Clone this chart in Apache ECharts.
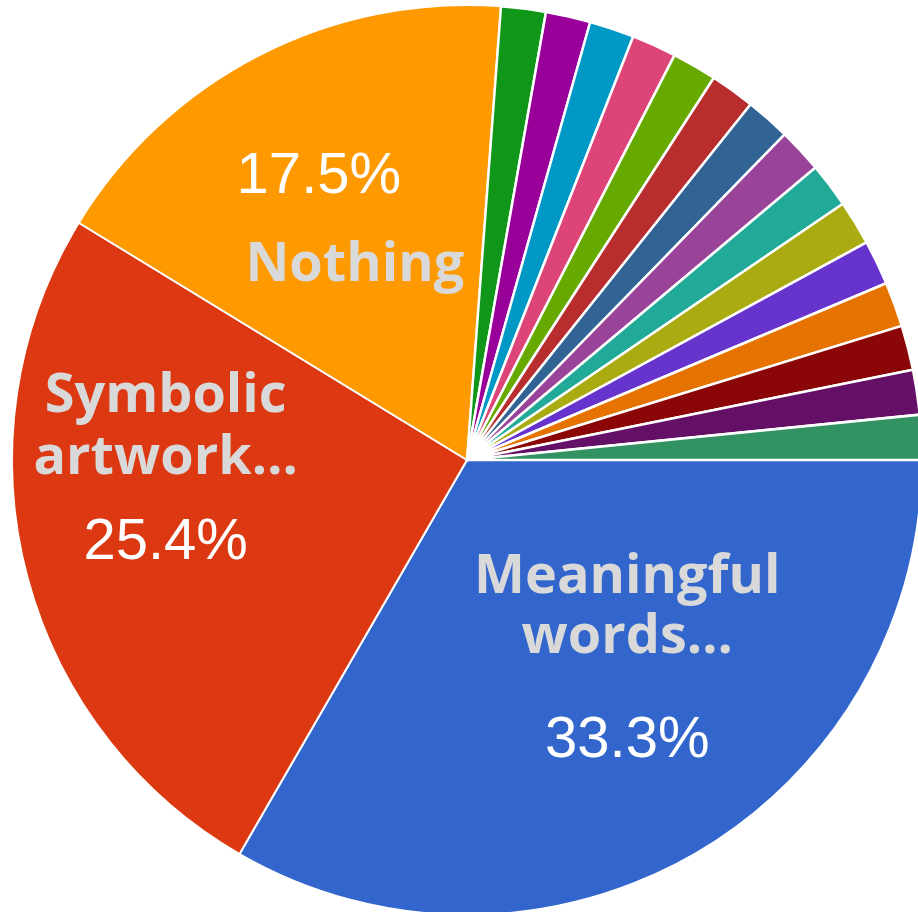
<!DOCTYPE html>
<html>
<head>
<meta charset="utf-8">
<style>
  html, body { margin: 0; padding: 0; background: #fff; }
  #chart { width: 918px; height: 912px; }
</style>
<script src="https://cdn.jsdelivr.net/npm/echarts@6/dist/echarts.min.js"></script>
</head>
<body>
<div id="chart"></div>
<script>
// answers, clockwise from 3 o'clock
const categories = [
  "Meaningful words…", "Symbolic artwork…", "Nothing",
  "Other 1", "Other 2", "Other 3", "Other 4", "Other 5",
  "Other 6", "Other 7", "Other 8", "Other 9", "Other 10",
  "Other 11", "Other 12", "Other 13", "Other 14", "Other 15"
];
const counts = [21, 16, 11, 1, 1, 1, 1, 1, 1, 1, 1, 1, 1, 1, 1, 1, 1, 1];
const colors = [
  "#3366cc", "#dc3912", "#ff9900", "#109618", "#990099", "#0099c6",
  "#dd4477", "#66aa00", "#b82e2e", "#316395", "#994499", "#22aa99",
  "#aaaa11", "#6633cc", "#e67300", "#8b0707", "#651067", "#329262"
];

// label tweaks for the three big slices only
const labelOffsets = [[45, 21], [-78, -36], [-25, -19]];

const chart = echarts.init(document.getElementById("chart"));

const nameStyle = {
  fontFamily: "Open Sans",
  fontWeight: "bold",
  fontSize: 54,
  color: "#d9d9d9",
  lineHeight: 60
};
const pctStyle = {
  fontFamily: "Liberation Sans",
  fontSize: 58,
  color: "#ffffff"
};

const fmt = (p) => {
  const pct = p.percent.toFixed(1) + "%";
  const parts = p.name.split(" ");
  if (p.dataIndex === 0) {
    return "{name|" + parts[0] + "}\n{name|" + parts[1] + "}\n{pctA|" + pct + "}";
  }
  if (p.dataIndex === 1) {
    return "{name2|" + parts[0] + "}\n{name2|" + parts[1] + "}\n{pctB|" + pct + "}";
  }
  return "{pctC|" + pct + "}\n{nameC|" + p.name + "}";
};

const data = categories.map((name, i) => {
  const item = { name: name, value: counts[i], itemStyle: { color: colors[i] } };
  if (i < 3) {
    item.label = { show: true, offset: labelOffsets[i] };
  } else {
    item.label = { show: false };
    item.itemStyle.borderWidth = 2.5;
  }
  return item;
});

chart.setOption({
  animation: false,
  series: [
    {
      type: "pie",
      center: [467, 460],
      radius: 455,
      startAngle: 0,
      clockwise: true,
      avoidLabelOverlap: false,
      itemStyle: { borderColor: "#ffffff", borderWidth: 2 },
      emphasis: { disabled: true },
      labelLine: { show: false },
      label: {
        position: "inside",
        formatter: fmt,
        rich: {
          name: nameStyle,
          name2: Object.assign({}, nameStyle, { lineHeight: 62 }),
          nameC: Object.assign({}, nameStyle, { lineHeight: 118, padding: [0, 0, 0, 36] }),
          pctA: Object.assign({}, pctStyle, { lineHeight: 146 }),
          pctB: Object.assign({}, pctStyle, { lineHeight: 106 }),
          pctC: Object.assign({}, pctStyle, { lineHeight: 60, padding: [0, 36, 0, 0] })
        }
      },
      data: data
    }
  ]
});
</script>
</body>
</html>
